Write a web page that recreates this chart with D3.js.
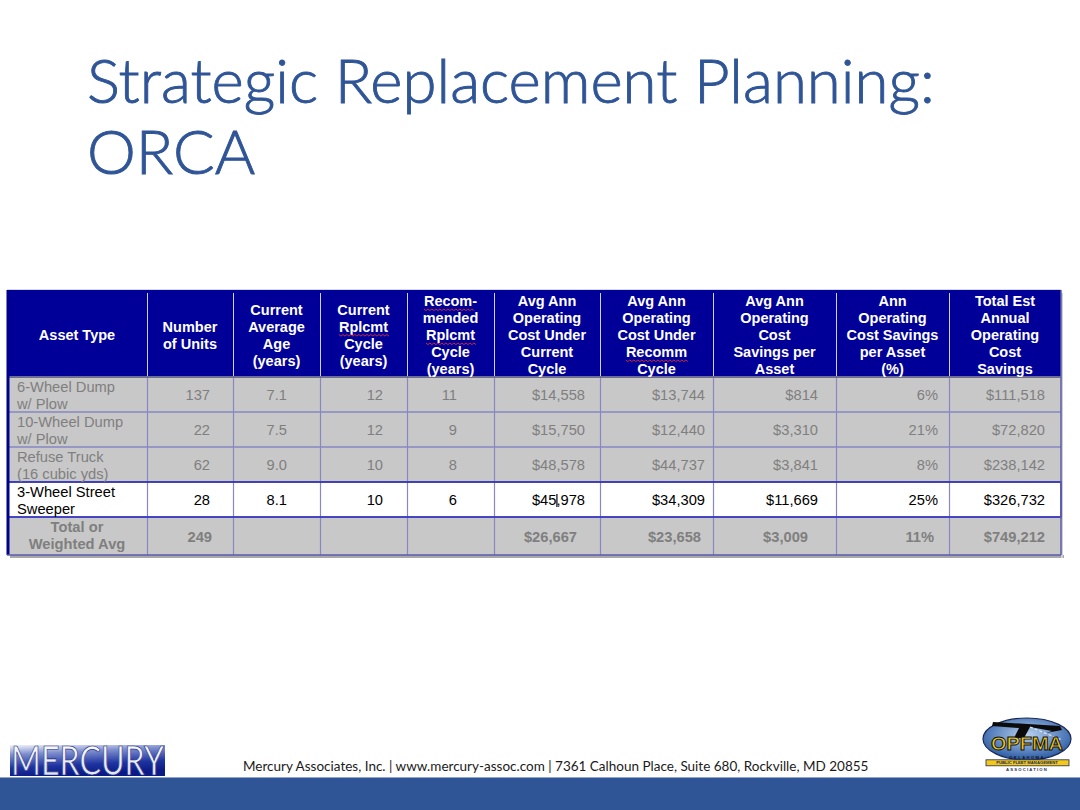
<!DOCTYPE html>
<html><head><meta charset="utf-8">
<script src="https://cdn.jsdelivr.net/npm/d3@7"></script>
<style>body{margin:0;background:#fff}svg{display:block}</style>
</head><body><svg id="c" width="1080" height="810"></svg>
<script>
// ---------------- data ----------------
const titleLines = ["Strategic Replacement Planning:", "ORCA"];
const headers = [
  ["Asset Type"],
  ["Number", "of Units"],
  ["Current", "Average", "Age", "(years)"],
  ["Current", "Rplcmt", "Cycle", "(years)"],
  ["Recom-", "mended", "Rplcmt", "Cycle", "(years)"],
  ["Avg Ann", "Operating", "Cost Under", "Current", "Cycle"],
  ["Avg Ann", "Operating", "Cost Under", "Recomm", "Cycle"],
  ["Avg Ann", "Operating", "Cost", "Savings per", "Asset"],
  ["Ann", "Operating", "Cost Savings", "per Asset", "(%)"],
  ["Total Est", "Annual", "Operating", "Cost", "Savings"]
];
const assetTypes = [["6-Wheel Dump", "w/ Plow"], ["10-Wheel Dump", "w/ Plow"], ["Refuse Truck", "(16 cubic yds)"], ["3-Wheel Street", "Sweeper"]];
const units = [137, 22, 62, 28];
const avgAge = [7.1, 7.5, 9.0, 8.1];
const currentCycle = [12, 12, 10, 10];
const recommCycle = [11, 9, 8, 6];
const costCurrent = [14558, 15750, 48578, 45978];
const costRecomm = [13744, 12440, 44737, 34309];
const savingsPerAsset = [814, 3310, 3841, 11669];
const savingsPct = [6, 21, 8, 25];
const totalSavings = [111518, 72820, 238142, 326732];
const totalLabel = ["Total or", "Weighted Avg"];
const totalRow = [249, null, null, null, 26667, 23658, 3009, 11, 749212];
const highlightRow = 3;
const spellFlagged = ["Recom-", "Rplcmt", "Recomm"];
const footerText = "Mercury Associates, Inc. | www.mercury-assoc.com | 7361 Calhoun Place, Suite 680, Rockville, MD 20855";

// ---------------- layout ----------------
const svg = d3.select("#c");
const W = 1080, H = 810;
const colWidths = [140, 86, 87, 87, 87, 106, 113, 123, 113, 112];
const rowHeights = [87, 35, 35, 35, 35, 38];
const tableLeft = 7, tableTop = 290;
const rightPad = [0, 23, 33, 24, 37, 15, 8, 18, 11, 16];
const totalPad = [0, 21, 0, 0, 0, 23, 12, 28, 15, 16];
const colEdges = [tableLeft, ...Array.from(d3.cumsum(colWidths), v => v + tableLeft)];
const rowEdges = [tableTop, ...Array.from(d3.cumsum(rowHeights), v => v + tableTop)];
const xCol = d3.scaleOrdinal().domain(d3.range(colEdges.length)).range(colEdges);
const yRow = d3.scaleOrdinal().domain(d3.range(rowEdges.length)).range(rowEdges);
const tableRight = xCol(10), tableBottom = yRow(6);

const fmtMoney = d3.format("$,");
const fmtAge = d3.format(".1f");
const fmtPct = d => d + "%";
const colFormats = [null, d3.format("d"), fmtAge, d3.format("d"), d3.format("d"), fmtMoney, fmtMoney, fmtMoney, fmtPct, fmtMoney];
const columns = [null, units, avgAge, currentCycle, recommCycle, costCurrent, costRecomm, savingsPerAsset, savingsPct, totalSavings];

const ARIAL = "Arial, 'Liberation Sans', Helvetica, sans-serif";
const TITLE_FONT = "Lato, 'Open Sans', 'Noto Sans', sans-serif";
const blue = "#2F5597";

// ---------------- title ----------------
const titleG = svg.append("g");
const tBaselines = [103, 174];
titleLines.forEach((t, i) => {
  titleG.append("text").attr("x", 87).attr("y", tBaselines[i])
    .attr("font-family", TITLE_FONT).attr("font-weight", 300).attr("font-size", 60)
    .attr("fill", blue).attr("stroke", blue).attr("stroke-width", 0.9).text(t);
});
(function () {
  const first = titleG.select("text").node();
  const w = first.getComputedTextLength();
  const fs = 60 * 848 / w;
  titleG.selectAll("text").attr("font-size", fs);
})();

// ---------------- table ----------------
const tbl = svg.append("g");
tbl.append("rect").attr("x", tableLeft + 3).attr("y", tableBottom).attr("width", tableRight - tableLeft).attr("height", 3).attr("fill", "#a8a8a8");
tbl.append("rect").attr("x", tableRight).attr("y", tableTop + 3).attr("width", 2).attr("height", tableBottom - tableTop).attr("fill", "#d0d0d0");
tbl.append("rect").attr("x", tableLeft).attr("y", yRow(0)).attr("width", tableRight - tableLeft).attr("height", yRow(1) - yRow(0)).attr("fill", "#000099");
tbl.append("line").attr("x1", tableLeft).attr("x2", tableRight).attr("y1", tableTop - 0.5).attr("y2", tableTop - 0.5).attr("stroke", "#d8d8e0");
const bodyRows = d3.range(1, 6);
tbl.selectAll("rect.row").data(bodyRows).join("rect").attr("class", "row")
  .attr("x", tableLeft).attr("y", r => yRow(r)).attr("width", tableRight - tableLeft)
  .attr("height", r => yRow(r + 1) - yRow(r))
  .attr("fill", r => (r - 1 === highlightRow ? "#ffffff" : "#c8c8c8"));
tbl.selectAll("line.hsep").data(d3.range(1, 10)).join("line").attr("class", "hsep")
  .attr("x1", c => xCol(c) + 0.5).attr("x2", c => xCol(c) + 0.5)
  .attr("y1", tableTop + 3).attr("y2", yRow(1)).attr("stroke", "#cfd0ea").attr("stroke-width", 1);
tbl.selectAll("line.vgrid").data(d3.range(1, 10)).join("line").attr("class", "vgrid")
  .attr("x1", c => xCol(c) + 0.5).attr("x2", c => xCol(c) + 0.5)
  .attr("y1", yRow(1)).attr("y2", tableBottom).attr("stroke", "#8787c4").attr("stroke-width", 1.2);
tbl.selectAll("line.hgrid").data([2, 3, 4, 5]).join("line").attr("class", "hgrid")
  .attr("x1", tableLeft).attr("x2", tableRight)
  .attr("y1", r => yRow(r)).attr("y2", r => yRow(r))
  .attr("stroke", r => (r === 4 ? "#6d6d8a" : "#8787c4")).attr("stroke-width", 1.5);
tbl.append("line").attr("x1", tableLeft).attr("x2", tableRight).attr("y1", yRow(1)).attr("y2", yRow(1)).attr("stroke", "#6e6e90").attr("stroke-width", 2);
tbl.append("rect").attr("x", tableLeft + 1).attr("y", yRow(highlightRow + 1)).attr("width", tableRight - tableLeft - 1)
  .attr("height", yRow(highlightRow + 2) - yRow(highlightRow + 1)).attr("fill", "none").attr("stroke", "#2a2ac0").attr("stroke-width", 1.5);
tbl.append("line").attr("x1", tableLeft + 1).attr("x2", tableLeft + 1).attr("y1", tableTop).attr("y2", tableBottom).attr("stroke", "#000088").attr("stroke-width", 3);
tbl.append("line").attr("x1", tableRight).attr("x2", tableRight).attr("y1", tableTop).attr("y2", tableBottom).attr("stroke", "#5c5ca8").attr("stroke-width", 1.5);
tbl.append("line").attr("x1", tableLeft).attr("x2", tableRight).attr("y1", tableBottom).attr("y2", tableBottom).attr("stroke", "#5c5cb0").attr("stroke-width", 1.5);

// header text
const hdrFS = 14.5, hdrLH = 17, hdrMid = 335;
const hdrTexts = [];
headers.forEach((lines, c) => {
  const cx = (xCol(c) + xCol(c + 1)) / 2;
  lines.forEach((ln, i) => {
    const y = hdrMid + (i - (lines.length - 1) / 2) * hdrLH + 5;
    const t = tbl.append("text").attr("x", cx).attr("y", y).attr("text-anchor", "middle")
      .attr("font-family", ARIAL).attr("font-weight", "bold").attr("font-size", hdrFS)
      .attr("fill", "#ffffff").text(ln);
    hdrTexts.push({ node: t.node(), text: ln, y });
  });
});
hdrTexts.filter(d => spellFlagged.includes(d.text)).forEach(d => {
  const bb = d.node.getBBox();
  const x0 = bb.x, x1 = bb.x + bb.width - (d.text.endsWith("-") ? 5 : 0);
  const yy = d.y + 3;
  let p = `M${x0},${yy}`;
  for (let x = x0, k = 0; x < x1; x += 2, k++) p += ` L${x + 2},${yy + (k % 2 ? 0 : 1.6)}`;
  tbl.append("path").attr("d", p).attr("fill", "none").attr("stroke", "#e03030").attr("stroke-width", 0.9);
});

// body text
const bodyFS = 14.7;
assetTypes.forEach((lines, r) => {
  const top = yRow(r + 1);
  const col = r === highlightRow ? "#000000" : "#7f7f7f";
  lines.forEach((ln, i) => {
    tbl.append("text").attr("x", xCol(0) + 10).attr("y", top + 15 + i * 16.5)
      .attr("font-family", ARIAL).attr("font-size", bodyFS).attr("fill", col).text(ln);
  });
  for (let c = 1; c < 10; c++) {
    const v = columns[c][r];
    tbl.append("text").attr("class", `cell r${r} c${c}`)
      .attr("x", xCol(c + 1) - rightPad[c]).attr("y", (top + yRow(r + 2)) / 2 + 5.5)
      .attr("text-anchor", "end").attr("font-family", ARIAL).attr("font-size", bodyFS)
      .attr("fill", col).text(colFormats[c](v));
  }
});
(function () {
  const top = yRow(5), bot = yRow(6);
  totalLabel.forEach((ln, i) => {
    tbl.append("text").attr("x", (xCol(0) + xCol(1)) / 2).attr("y", top + 15 + i * 17)
      .attr("text-anchor", "middle").attr("font-family", ARIAL).attr("font-weight", "bold")
      .attr("font-size", bodyFS).attr("fill", "#7f7f7f").text(ln);
  });
  totalRow.forEach((v, k) => {
    const c = k + 1;
    if (v === null) return;
    tbl.append("text").attr("x", xCol(c + 1) - totalPad[c]).attr("y", (top + bot) / 2 + 5.5)
      .attr("text-anchor", "end").attr("font-family", ARIAL).attr("font-weight", "bold")
      .attr("font-size", bodyFS).attr("fill", "#7f7f7f").text(colFormats[c](v));
  });
})();
(function () {
  const n = tbl.select(`text.cell.r${highlightRow}.c5`).node();
  const bb = n.getBBox();
  const x = bb.x + n.getSubStringLength(0, 3) + 0.5;
  tbl.append("line").attr("x1", x).attr("x2", x).attr("y1", bb.y + 2).attr("y2", bb.y + bb.height - 1)
    .attr("stroke", "#000").attr("stroke-width", 1.2);
})();

// ---------------- footer ----------------
svg.append("rect").attr("x", 0).attr("y", 778).attr("width", W).attr("height", H - 778).attr("fill", blue);
svg.append("line").attr("x1", 0).attr("x2", W).attr("y1", 777.5).attr("y2", 777.5).attr("stroke", "#8fa5cf").attr("stroke-width", 1);
const ft = svg.append("text").attr("x", 243).attr("y", 771).attr("font-family", TITLE_FONT)
  .attr("font-size", 14).attr("fill", "#1a1a1a").text(footerText);
(function () {
  const w = ft.node().getComputedTextLength();
  ft.attr("font-size", 14 * 626 / w);
})();

// MERCURY logo
const defs = svg.append("defs");
const mg = defs.append("linearGradient").attr("id", "mg").attr("x1", 0).attr("y1", 0).attr("x2", 0.25).attr("y2", 1);
mg.append("stop").attr("offset", "0%").attr("stop-color", "#f2f4fb");
mg.append("stop").attr("offset", "30%").attr("stop-color", "#7d8ecf");
mg.append("stop").attr("offset", "70%").attr("stop-color", "#1f34a0");
mg.append("stop").attr("offset", "100%").attr("stop-color", "#0a1a86");
const lg = defs.append("linearGradient").attr("id", "lg").attr("x1", 0).attr("y1", 0).attr("x2", 0).attr("y2", 1);
lg.append("stop").attr("offset", "0%").attr("stop-color", "#ffffff");
lg.append("stop").attr("offset", "100%").attr("stop-color", "#d9deee");
svg.append("rect").attr("x", 10).attr("y", 745).attr("width", 155).attr("height", 31).attr("fill", "url(#mg)");
svg.append("text").attr("x", 11).attr("y", 775).attr("font-family", "Lato, 'Open Sans', sans-serif").attr("font-weight", 400)
  .attr("font-size", 40).attr("textLength", 153).attr("lengthAdjust", "spacingAndGlyphs")
  .attr("fill", "url(#lg)").attr("stroke", "#1a2a80").attr("stroke-width", 0.7).text("MERCURY");

// OPFMA logo
const og = defs.append("radialGradient").attr("id", "og").attr("cx", "50%").attr("cy", "40%").attr("r", "60%");
og.append("stop").attr("offset", "0%").attr("stop-color", "#b9d3f0");
og.append("stop").attr("offset", "100%").attr("stop-color", "#2a5aa4");
const logo = svg.append("g");
logo.append("ellipse").attr("cx", 1027).attr("cy", 739).attr("rx", 44).attr("ry", 21).attr("fill", "url(#og)").attr("stroke", "#1b2a55").attr("stroke-width", 1.2);
logo.append("path").attr("d", "M993,722 L1060,726 L1062,730 L1046,733 L1052,731 L1030,727 L1024,738 L1014,738 L1019,728 L992,726 Z").attr("fill", "#0b0b0b");
logo.append("path").attr("d", "M1030,727 L1062,740").attr("stroke", "#dfe8f5").attr("stroke-width", 1.2).attr("stroke-dasharray", "3,2");
logo.append("text").attr("x", 1027).attr("y", 750).attr("text-anchor", "middle").attr("font-family", ARIAL).attr("font-weight", "bold")
  .attr("font-size", 17.5).attr("textLength", 72).attr("lengthAdjust", "spacingAndGlyphs")
  .attr("fill", "#f2c81a").attr("stroke", "#111").attr("stroke-width", 0.9).text("OPFMA");
logo.append("text").attr("x", 1027).attr("y", 758.8).attr("text-anchor", "middle").attr("font-family", ARIAL).attr("font-weight", "bold")
  .attr("font-size", 4).attr("letter-spacing", 1.5).attr("fill", "#111").text("OKLAHOMA");
logo.append("rect").attr("x", 986).attr("y", 759.8).attr("width", 83).attr("height", 6).attr("fill", "#f2c81a").attr("stroke", "#1b2a55").attr("stroke-width", 0.8);
logo.append("text").attr("x", 1027).attr("y", 764.4).attr("text-anchor", "middle").attr("font-family", ARIAL).attr("font-weight", "bold")
  .attr("font-size", 4.2).attr("fill", "#1b2a55").text("PUBLIC FLEET MANAGEMENT");
logo.append("text").attr("x", 1027).attr("y", 770.5).attr("text-anchor", "middle").attr("font-family", ARIAL).attr("font-weight", "bold")
  .attr("font-size", 4.2).attr("letter-spacing", 1.2).attr("fill", "#1b2a55").text("ASSOCIATION");
</script></body></html>
